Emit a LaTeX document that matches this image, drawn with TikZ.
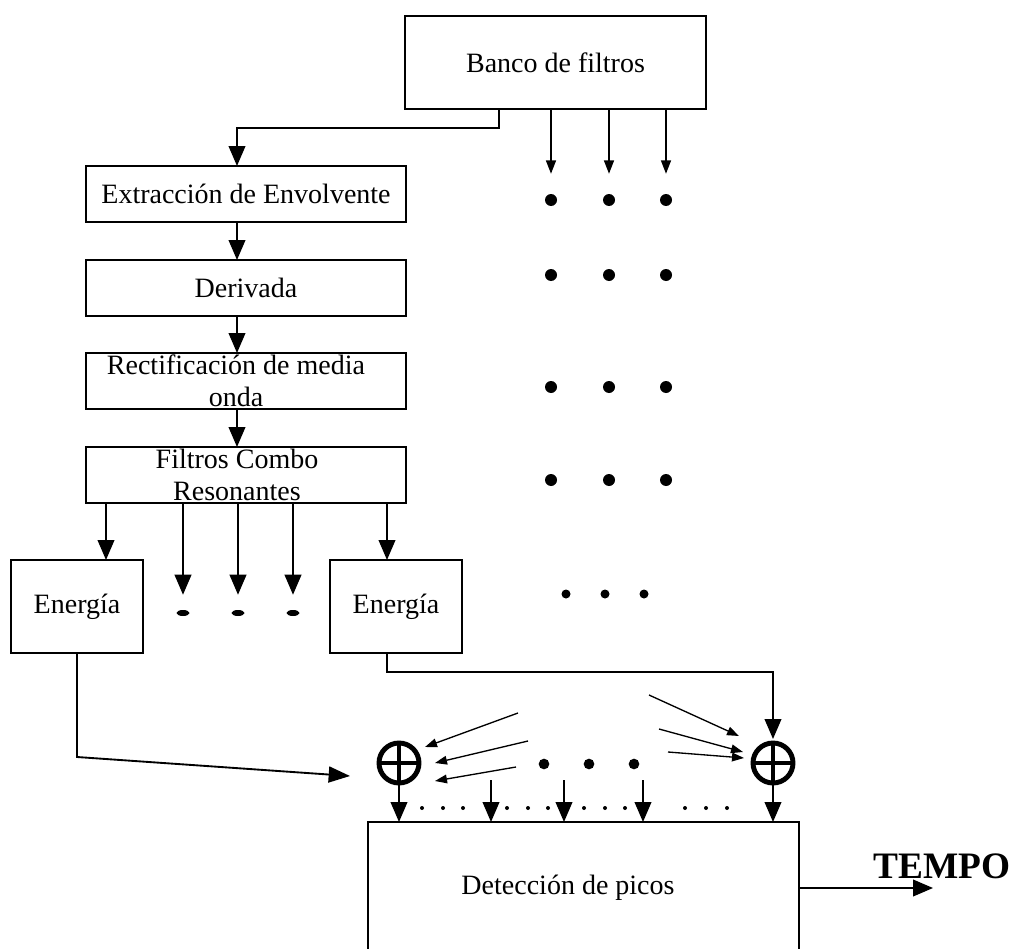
\documentclass[tikz,border=0pt]{standalone}
\usepackage{fontspec}
\setmainfont{Liberation Serif}
\usetikzlibrary{arrows.meta,shapes.geometric}
\begin{document}
\begin{tikzpicture}[x=0.75pt,y=-0.75pt,
  box/.style={draw,line width=2.2pt,inner sep=0pt,outer sep=0pt,
    font=\fontsize{21}{24}\selectfont},
  chainbox/.style={box,minimum width=240pt,minimum height=42pt},
  energybox/.style={box,minimum width=99pt,minimum height=69.75pt},
  lbl/.style={inner sep=0pt,align=center,font=\fontsize{21}{24}\selectfont},
  conn/.style={line width=1.4pt,-{Triangle[length=15pt,width=12.5pt]}},
  fine/.style={line width=1pt,-{Triangle[length=10pt,width=7.5pt]}},
  feed/.style={line width=1pt,-{Triangle[length=9pt,width=6.5pt]}},
  dot/.style={circle,fill,inner sep=0pt,minimum size=9pt},
  smalldot/.style={circle,fill,inner sep=0pt,minimum size=3pt},
  flatdot/.style={ellipse,fill,inner sep=0pt,minimum width=9.75pt,minimum height=4.5pt},
  adder/.style={circle,draw,line width=3.7pt,minimum size=30pt,inner sep=0pt,outer sep=0pt}
]
\useasboundingbox (0,0) rectangle (1011,949);
\clip (0,0) rectangle (1011,949);

% processing chain
\node[box,minimum width=225.75pt,minimum height=69.75pt] (banco) at (555.5,62.5) {Banco de filtros};
\node[chainbox] (ext) at (246,194) {Extracción de Envolvente};
\node[chainbox] (der) at (246,288) {Derivada};
\node[chainbox] (rect) at (246,381) {};
\node[lbl] (rectlbl) at (236,381) {Rectificación de media\\onda};
\node[chainbox] (fil) at (246,475) {};
\node[lbl] (fillbl) at (237,475) {Filtros Combo\\Resonantes};

\coordinate (bout) at ([xshift=-42.4pt]banco.south);
\draw[conn] (bout) -- ++(0,19) -| ([xshift=-6.75pt]ext.north);
\draw[conn] ([xshift=-6.75pt]ext.south) -- ([xshift=-6.75pt]der.north);
\draw[conn] ([xshift=-6.75pt]der.south) -- ([xshift=-6.75pt]rect.north);
\draw[conn] ([xshift=-6.75pt]rect.south) -- ([xshift=-6.75pt]fil.north);

% other filter-bank channels
\foreach \r/\y in {1/200,2/275,3/387,4/480}
  \foreach \c/\x in {1/551,2/609,3/666}
    \node[dot] (g\r\c) at (\x,\y) {};
\foreach \c/\x in {1/566,2/605,3/644}
  \node[dot,minimum size=6.75pt] (g5\c) at (\x,594) {};
\foreach \c in {1,2,3}
  \draw[fine,shorten >=15pt] (banco.south -| g1\c) -- (g1\c);

% energy stages
\node[energybox] (e1) at (77,606.5) {Energía};
\node[energybox] (e2) at (396,606.5) {Energía};
\coordinate (e1in) at ([xshift=21.75pt]e1.north);
\coordinate (e2in) at ([xshift=-6.75pt]e2.north);
\draw[conn] (fil.south -| e1in) -- (e1in);
\draw[conn] (fil.south -| e2in) -- (e2in);
\foreach \i/\x in {1/183,2/238,3/293} {
  \node[flatdot] (m\i) at (\x,613) {};
  \draw[conn,shorten >=11.25pt] (fil.south -| m\i) -- (m\i);
}

% adders
\node[adder] (c1) at (399,763) {};
\node[adder] (c2) at (773,763) {};
\foreach \n in {c1,c2}
  \draw[line width=3pt] (\n.north) -- (\n.south) (\n.west) -- (\n.east);

\coordinate (c1in) at (350,776);
\draw[conn,-{Triangle[length=16pt,width=12pt]}] (e1.south) -- ++(0,104) -- (c1in);
\coordinate (e2out) at ([xshift=-6.75pt]e2.south);
\draw[conn,shorten >=3pt] (e2out) -- ++(0,19) -| (c2.north);

% inputs from the other channels
\coordinate (fa1) at (518,713); \coordinate (fb1) at (425,747);
\coordinate (fa2) at (528,741); \coordinate (fb2) at (435,763);
\coordinate (fa3) at (516,767); \coordinate (fb3) at (435,781);
\coordinate (ga1) at (649,695); \coordinate (gb1) at (739,736);
\coordinate (ga2) at (659,729); \coordinate (gb2) at (743,752);
\coordinate (ga3) at (668,752); \coordinate (gb3) at (744,758);
\foreach \i in {1,2,3} {
  \draw[feed] (fa\i) -- (fb\i);
  \draw[feed] (ga\i) -- (gb\i);
}
\foreach \i/\x in {1/544,2/589,3/634}
  \node[dot,minimum size=8pt] (md\i) at (\x,764) {};

% peak detection
\node[draw,line width=1.5pt,minimum width=323.25pt,minimum height=99pt,
      inner sep=0pt,outer sep=0pt] (det) at (583.5,888) {};
\node[lbl] (detlbl) at (568,888) {Detección de picos};

\draw[conn] (c1.south) -- (c1.south |- det.north);
\draw[conn] (c2.south) -- (c2.south |- det.north);
\foreach \i/\x in {1/491,2/564,3/643} {
  \coordinate (t\i) at (\x,780);
  \draw[conn] (t\i) -- (t\i |- det.north);
}
\foreach \x in {422,443,463,507,528,548,584,605,625,685,706,727}
  \node[smalldot] at (\x,808) {};

% output
\coordinate (tempoend) at (933,888);
\draw[conn] (det.east) -- (tempoend);
\node[inner sep=0pt,font=\fontsize{28}{30}\selectfont\bfseries] (tempo) at (942,866) {TEMPO};
\end{tikzpicture}
\end{document}
